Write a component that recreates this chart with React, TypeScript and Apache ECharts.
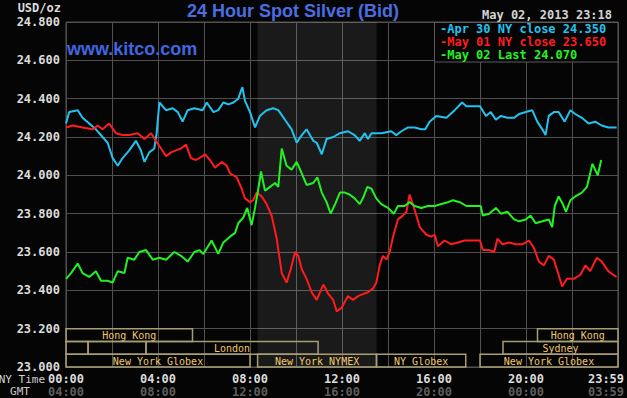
import React, { useEffect, useRef } from "react";
import * as echarts from "echarts";

// ---- Data (hours since 00:00 NY time, USD/oz) ----
const blueHours = [0, 0.14, 0.51, 0.72, 1.01, 1.3, 1.59, 1.81, 2.03, 2.25, 2.46, 2.75, 3.04, 3.26, 3.41, 3.62, 3.84, 3.94, 4.06, 4.35, 4.64, 4.86, 5.07, 5.29, 5.58, 5.94, 6.12, 6.41, 6.62, 6.84, 7.06, 7.28, 7.49, 7.67, 7.78, 8.0, 8.22, 8.43, 8.72, 9.01, 9.23, 9.52, 9.81, 10.03, 10.25, 10.46, 10.75, 10.9, 11.12, 11.33, 11.62, 11.91, 12.26, 12.55, 12.77, 12.99, 13.13, 13.28, 13.71, 14.14, 14.36, 14.58, 14.87, 15.16, 15.45, 15.62, 15.81, 16.1, 16.54, 16.9, 17.22, 17.41, 18.0, 18.26, 18.47, 18.69, 18.91, 19.19, 19.48, 19.7, 19.99, 20.27, 20.49, 20.71, 20.85, 20.99, 21.21, 21.42, 21.68, 21.93, 22.14, 22.43, 22.72, 23.01, 23.29, 23.58, 23.94];
const blueValues = [24.27, 24.33, 24.34, 24.3, 24.27, 24.24, 24.2, 24.17, 24.09, 24.05, 24.09, 24.13, 24.18, 24.13, 24.07, 24.12, 24.14, 24.22, 24.38, 24.34, 24.35, 24.33, 24.28, 24.34, 24.35, 24.34, 24.38, 24.33, 24.34, 24.38, 24.37, 24.38, 24.4, 24.46, 24.39, 24.33, 24.25, 24.31, 24.34, 24.35, 24.34, 24.29, 24.24, 24.17, 24.21, 24.24, 24.18, 24.17, 24.11, 24.19, 24.2, 24.22, 24.23, 24.21, 24.18, 24.22, 24.19, 24.22, 24.22, 24.23, 24.21, 24.23, 24.25, 24.25, 24.24, 24.24, 24.28, 24.31, 24.3, 24.34, 24.38, 24.36, 24.36, 24.31, 24.33, 24.29, 24.31, 24.3, 24.3, 24.32, 24.33, 24.34, 24.28, 24.24, 24.21, 24.31, 24.33, 24.33, 24.28, 24.34, 24.32, 24.3, 24.27, 24.28, 24.26, 24.25, 24.25];

const redHours = [0, 0.29, 0.72, 1.16, 1.38, 1.59, 1.88, 2.17, 2.46, 2.75, 3.12, 3.41, 3.7, 3.91, 4.13, 4.35, 4.57, 4.78, 5.0, 5.22, 5.43, 5.65, 5.94, 6.04, 6.26, 6.48, 6.77, 6.99, 7.13, 7.42, 7.64, 7.78, 8.0, 8.14, 8.29, 8.51, 8.72, 8.94, 9.16, 9.38, 9.59, 9.77, 9.96, 10.1, 10.25, 10.46, 10.68, 10.9, 11.19, 11.41, 11.62, 11.77, 11.99, 12.26, 12.48, 12.7, 12.91, 13.13, 13.35, 13.49, 13.64, 13.78, 13.93, 14.07, 14.22, 14.43, 14.65, 14.8, 14.94, 15.16, 15.38, 15.67, 15.88, 16.03, 16.17, 16.46, 16.75, 17.04, 17.33, 18.0, 18.12, 18.4, 18.62, 18.76, 18.98, 19.27, 19.55, 19.84, 20.13, 20.35, 20.56, 20.78, 20.99, 21.21, 21.42, 21.57, 21.78, 22.07, 22.36, 22.58, 22.79, 23.08, 23.29, 23.58, 23.8, 23.94];
const redValues = [24.25, 24.26, 24.25, 24.24, 24.26, 24.24, 24.27, 24.22, 24.21, 24.21, 24.22, 24.19, 24.22, 24.18, 24.14, 24.1, 24.12, 24.13, 24.14, 24.16, 24.09, 24.08, 24.1, 24.11, 24.08, 24.04, 24.07, 24.05, 24.01, 23.99, 23.93, 23.88, 23.86, 23.87, 23.91, 23.89, 23.85, 23.79, 23.67, 23.49, 23.44, 23.51, 23.6, 23.58, 23.51, 23.46, 23.39, 23.35, 23.43, 23.38, 23.35, 23.29, 23.31, 23.37, 23.35, 23.37, 23.38, 23.39, 23.41, 23.44, 23.53, 23.58, 23.56, 23.6, 23.68, 23.77, 23.79, 23.81, 23.9, 23.82, 23.73, 23.69, 23.68, 23.69, 23.63, 23.66, 23.64, 23.65, 23.66, 23.66, 23.61, 23.61, 23.6, 23.67, 23.64, 23.65, 23.64, 23.64, 23.66, 23.62, 23.55, 23.53, 23.58, 23.56, 23.48, 23.42, 23.46, 23.46, 23.48, 23.53, 23.5, 23.57, 23.55, 23.5, 23.48, 23.47];

const greenHours = [0, 0.22, 0.51, 0.72, 1.01, 1.3, 1.52, 1.81, 2.03, 2.25, 2.54, 2.68, 2.97, 3.19, 3.48, 3.77, 4.06, 4.35, 4.71, 5.0, 5.29, 5.58, 5.8, 5.97, 6.33, 6.62, 6.84, 7.13, 7.35, 7.49, 7.71, 7.88, 8.07, 8.22, 8.36, 8.48, 8.65, 8.87, 9.09, 9.23, 9.38, 9.59, 9.81, 10.03, 10.25, 10.46, 10.75, 10.93, 11.12, 11.33, 11.51, 11.7, 11.91, 12.12, 12.33, 12.55, 12.77, 12.91, 13.1, 13.28, 13.49, 13.71, 14.0, 14.26, 14.43, 14.72, 14.94, 15.16, 15.45, 15.74, 16.03, 16.32, 16.61, 16.83, 17.12, 17.41, 18.03, 18.12, 18.4, 18.69, 18.91, 19.19, 19.48, 19.7, 19.99, 20.2, 20.42, 20.71, 20.99, 21.14, 21.25, 21.42, 21.6, 21.74, 21.93, 22.14, 22.43, 22.65, 22.79, 22.89, 23.12, 23.27];
const greenValues = [23.46, 23.49, 23.54, 23.49, 23.47, 23.5, 23.45, 23.45, 23.44, 23.5, 23.49, 23.57, 23.56, 23.6, 23.61, 23.56, 23.57, 23.56, 23.6, 23.58, 23.55, 23.6, 23.61, 23.59, 23.66, 23.59, 23.65, 23.68, 23.7, 23.75, 23.78, 23.83, 23.74, 23.83, 23.93, 24.02, 23.92, 23.94, 23.96, 23.94, 24.14, 24.05, 24.03, 24.07, 24.01, 23.95, 23.96, 23.99, 23.91, 23.86, 23.8, 23.85, 23.91, 23.91, 23.9, 23.88, 23.85, 23.88, 23.94, 23.93, 23.88, 23.85, 23.83, 23.8, 23.84, 23.84, 23.86, 23.84, 23.83, 23.84, 23.84, 23.85, 23.86, 23.87, 23.86, 23.84, 23.84, 23.79, 23.8, 23.83, 23.8, 23.81, 23.77, 23.76, 23.77, 23.79, 23.75, 23.76, 23.77, 23.73, 23.84, 23.89, 23.85, 23.81, 23.87, 23.89, 23.91, 23.94, 24.01, 24.06, 24.0, 24.08];

const legendLabels = ["-Apr 30 NY close 24.350", "-May 01 NY close 23.650", "-May 02 Last 24.070"];
const seriesColors = ["#22c3ee", "#ff1c1c", "#22f222"];

// Market sessions (hours), row 0..2 from the top of the band
const sessionStart = [0, 20.5, 0, 0.96, 3.48, 19.0, 0, 8.33, 13.5, 18.0];
const sessionEnd = [5.5, 24, 0.96, 3.48, 10.96, 24, 8.0, 13.5, 17.38, 24];
const sessionRow = [0, 0, 1, 1, 1, 1, 2, 2, 2, 2];
const sessionName = ["Hong Kong", "Hong Kong", "", "", "London", "Sydney", "New York Globex", "New York NYMEX", "NY Globex", "New York Globex"];

const nymexShade = [8.33, 13.5];
const yMin = 23.0;
const yMax = 24.8;
const yStep = 0.2;
const xStep = 2;
const bandTop = 23.2;

const mono = '"DejaVu Sans Mono", monospace';

function pad(n: number) {
  return (n < 10 ? "0" : "") + n;
}

export default function App() {
  const ref = useRef<HTMLDivElement>(null);
  useEffect(() => {
    if (!ref.current) return;
    const chart = echarts.init(ref.current, null, { renderer: "svg" });
    const rowSpan = (bandTop - yMin) / 3;
    const mk = (h: number[], v: number[]) => h.map((x, i) => [x, v[i]]);
    const legendRich: any = {};
    seriesColors.forEach((c, i) => {
      legendRich["s" + i] = { fill: c, font: "bold 12px " + mono, lineHeight: 13 };
    });
    const axisFont = { fontFamily: mono, fontWeight: "bold", fontSize: 12, lineHeight: 13 };
    const option: any = {
      animation: false,
      backgroundColor: "#050505",
      grid: {
        left: 66,
        top: 22,
        right: 9,
        bottom: 31,
        show: true,
        borderColor: "#555",
        borderWidth: 1,
        containLabel: false,
        outerBoundsMode: "none",
      },
      xAxis: {
        type: "value",
        min: 0,
        max: 24,
        interval: xStep,
        axisLine: { show: false },
        axisTick: { show: false },
        splitLine: { show: true, lineStyle: { color: "#505050", width: 1 } },
        axisLabel: {
          margin: 5,
          hideOverlap: false,
          formatter: (v: number) => {
            if (v % 4 !== 0) return "";
            if (v === 24) return "{nl|23:59}\n{gl|03:59}";
            return "{n|" + pad(v) + ":00}\n{g|" + pad((v + 4) % 24) + ":00}";
          },
          rich: {
            n: { color: "#dcdcdc", ...axisFont },
            g: { color: "#5e5e5e", ...axisFont },
            nl: { color: "#dcdcdc", ...axisFont, padding: [0, 24, 0, 0] },
            gl: { color: "#5e5e5e", ...axisFont, padding: [0, 24, 0, 0] },
          },
        },
      },
      yAxis: {
        type: "value",
        min: yMin,
        max: yMax,
        interval: yStep,
        axisLine: { show: false },
        axisTick: { show: false },
        splitLine: { show: true, lineStyle: { color: "#505050", width: 1 } },
        axisLabel: {
          margin: 6,
          color: "#dcdcdc",
          fontFamily: mono,
          fontWeight: "bold",
          fontSize: 12,
          formatter: (v: number) => v.toFixed(3),
        },
      },
      series: [
        {
          type: "line",
          data: mk(blueHours, blueValues),
          showSymbol: false,
          lineStyle: { color: seriesColors[0], width: 2 },
          z: 3,
          markArea: {
            silent: true,
            itemStyle: { color: "rgba(255,255,255,0.085)" },
            data: [[{ xAxis: nymexShade[0] }, { xAxis: nymexShade[1] }]],
          },
        },
        {
          type: "line",
          data: mk(redHours, redValues),
          showSymbol: false,
          lineStyle: { color: seriesColors[1], width: 2 },
          z: 3,
        },
        {
          type: "line",
          data: mk(greenHours, greenValues),
          showSymbol: false,
          lineStyle: { color: seriesColors[2], width: 2 },
          z: 4,
        },
        {
          type: "custom",
          data: sessionStart.map((s, i) => [s, sessionEnd[i], (bandTop + yMin) / 2]),
          encode: { x: [0, 1], y: 2 },
          z: 5,
          renderItem: (params: any, api: any) => {
            const i = params.dataIndex;
            const r = sessionRow[i];
            const x0 = api.coord([api.value(0), yMin])[0];
            const x1 = api.coord([api.value(1), yMin])[0];
            const yT = api.coord([0, bandTop - r * rowSpan])[1];
            const yB = api.coord([0, bandTop - (r + 1) * rowSpan])[1];
            return {
              type: "group",
              children: [
                {
                  type: "rect",
                  shape: { x: x0, y: yT, width: x1 - x0, height: yB - yT },
                  style: { fill: "none", stroke: "#a89e74", lineWidth: 1.5 },
                },
                {
                  type: "text",
                  x: (x0 + x1) / 2,
                  y: (yT + yB) / 2 + 0.5,
                  style: {
                    text: sessionName[i],
                    fill: "#f0c86a",
                    font: "10px " + mono,
                    align: "center",
                    verticalAlign: "middle",
                  },
                },
              ],
            };
          },
        },
      ],
      graphic: [
        { type: "text", x: 61, y: 8, style: { text: "USD/oz", fill: "#dcdcdc", font: "bold 12px " + mono, align: "right", verticalAlign: "middle" } },
        { type: "text", x: 293, y: 11, style: { text: "24 Hour Spot Silver (Bid)", fill: "#4a6ee2", font: "bold 18px 'Liberation Sans', Arial, sans-serif", align: "center", verticalAlign: "middle" } },
        { type: "text", x: 67, y: 49, z: 10, style: { text: "www.kitco.com", fill: "#4266e0", font: "bold 18px 'Liberation Sans', Arial, sans-serif", align: "left", verticalAlign: "middle" } },
        { type: "text", x: 482, y: 15, style: { text: "May 02, 2013 23:18", fill: "#d4d4d4", font: "bold 12px " + mono, align: "left", verticalAlign: "middle" } },
        { type: "rect", z: 100, shape: { x: 434.5, y: 22.5, width: 183.5, height: 39.5 }, style: { fill: "#050505", stroke: "#5a5a5a", lineWidth: 1 } },
        {
          type: "text",
          z: 101,
          x: 440,
          y: 22.5,
          style: {
            text: legendLabels.map((t, i) => "{s" + i + "|" + t + "}").join("\n"),
            rich: legendRich,
            align: "left",
            verticalAlign: "top",
          },
        },
        { type: "text", x: 45, y: 379, style: { text: "NY Time", fill: "#d0d0d0", font: "11px " + mono, align: "right", verticalAlign: "middle" } },
        { type: "text", x: 20, y: 391, style: { text: "GMT", fill: "#c8c8c8", font: "11px " + mono, align: "center", verticalAlign: "middle" } },
      ],
    };
    chart.setOption(option);
    return () => chart.dispose();
  }, []);
  return <div ref={ref} style={{ position: "fixed", left: 0, top: 0, width: 627, height: 398 }} />;
}
